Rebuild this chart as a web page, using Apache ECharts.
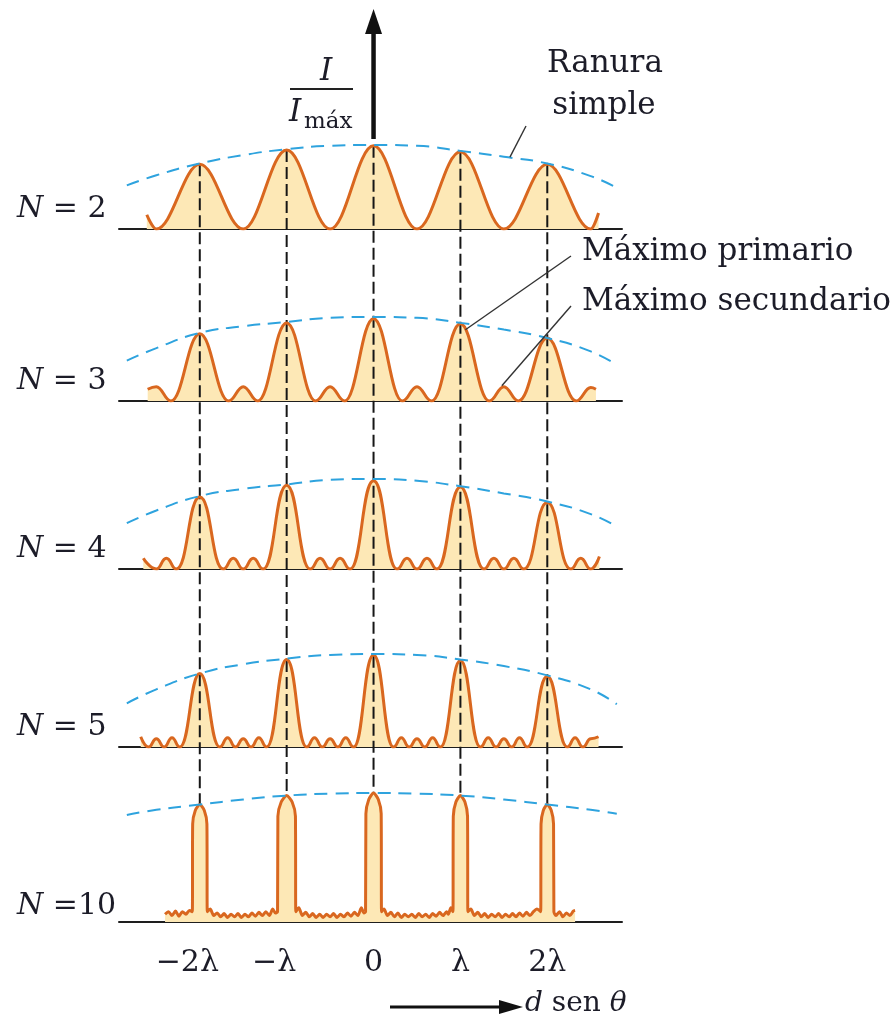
<!DOCTYPE html>
<html>
<head>
<meta charset="utf-8">
<script src="https://cdn.jsdelivr.net/npm/echarts@6/dist/echarts.min.js"></script>
<style>
html, body { margin: 0; padding: 0; background: #ffffff; }
#chart { width: 893px; height: 1017px; }
</style>
</head>
<body>
<div id="chart"></div>
<script>
// Principal-maximum positions (in units of λ on the d sen θ axis) and their labels
const positions = [-2, -1, 0, 1, 2];
const tickLabels = ['−2λ', '−λ', '0', 'λ', '2λ'];
const panelLabels = ['N = 2', 'N = 3', 'N = 4', 'N = 5', 'N =10'];

// Single-slit envelope (I / I_máx), sampled along d sen θ
const envelopeX   = [-2.84, -2.5, -2, -1.5, -1, -0.5, 0, 0.5, 1, 1.5, 2, 2.5, 2.8];
const envelopeN2  = [0.52, 0.64, 0.78, 0.88, 0.95, 0.99, 1.0, 0.99, 0.93, 0.86, 0.78, 0.63, 0.49];
const envelopeN3  = [0.48, 0.63, 0.81, 0.89, 0.94, 0.99, 1.0, 0.99, 0.93, 0.85, 0.75, 0.59, 0.43];
const envelopeN4  = [0.51, 0.65, 0.81, 0.89, 0.94, 0.99, 1.0, 0.98, 0.92, 0.84, 0.75, 0.61, 0.47];
const envelopeN5  = [0.47, 0.62, 0.79, 0.89, 0.95, 0.99, 1.0, 0.99, 0.94, 0.87, 0.77, 0.62, 0.46];
const envelopeN10 = [0.83, 0.87, 0.91, 0.95, 0.98, 0.995, 1.0, 0.995, 0.98, 0.95, 0.91, 0.87, 0.84];

// Interference patterns: [d sen θ (λ), I / I_máx] at maxima and minima
const curveN2 = [[-2.61, 0.17], [-2.5, 0], [-2, 0.77], [-1.5, 0], [-1, 0.94], [-0.5, 0], [0, 0.99],
  [0.5, 0], [1, 0.92], [1.5, 0], [2, 0.77], [2.5, 0], [2.59, 0.19]];

const curveN3 = [[-2.6, 0.14], [-2.5, 0.17], [-2.333, 0], [-2, 0.8], [-1.667, 0], [-1.5, 0.17], [-1.333, 0],
  [-1, 0.93], [-0.667, 0], [-0.5, 0.17], [-0.333, 0], [0, 0.98], [0.333, 0], [0.5, 0.17], [0.667, 0],
  [1, 0.92], [1.333, 0], [1.5, 0.17], [1.667, 0], [2, 0.75], [2.333, 0], [2.5, 0.16], [2.56, 0.14]];

const curveN4 = [[-2.65, 0.12], [-2.5, 0], [-2.385, 0.12], [-2.27, 0], [-2, 0.8], [-1.73, 0], [-1.615, 0.12],
  [-1.5, 0], [-1.385, 0.12], [-1.27, 0], [-1, 0.93], [-0.73, 0], [-0.615, 0.12], [-0.5, 0], [-0.385, 0.12],
  [-0.27, 0], [0, 0.98], [0.27, 0], [0.385, 0.12], [0.5, 0], [0.615, 0.12], [0.73, 0], [1, 0.91],
  [1.27, 0], [1.385, 0.12], [1.5, 0], [1.615, 0.12], [1.73, 0], [2, 0.74], [2.27, 0], [2.385, 0.12],
  [2.5, 0], [2.6, 0.14]];

const curveN5 = [[-2.68, 0.11], [-2.59, 0], [-2.5, 0.09], [-2.41, 0], [-2.32, 0.1], [-2.23, 0], [-2, 0.79],
  [-1.77, 0], [-1.68, 0.1], [-1.59, 0], [-1.5, 0.09], [-1.41, 0], [-1.32, 0.1], [-1.23, 0], [-1, 0.94],
  [-0.77, 0], [-0.68, 0.1], [-0.59, 0], [-0.5, 0.09], [-0.41, 0], [-0.32, 0.1], [-0.23, 0], [0, 0.99],
  [0.23, 0], [0.32, 0.1], [0.41, 0], [0.5, 0.09], [0.59, 0], [0.68, 0.1], [0.77, 0], [1, 0.93],
  [1.23, 0], [1.32, 0.1], [1.41, 0], [1.5, 0.09], [1.59, 0], [1.68, 0.1], [1.77, 0], [2, 0.76],
  [2.23, 0], [2.32, 0.1], [2.41, 0], [2.5, 0.09], [2.59, 0.11]];

const curveN10 = [
  [-2.40, 0.06], [-2.36, 0.08], [-2.32, 0.05], [-2.28, 0.085], [-2.24, 0.045], [-2.20, 0.08],
  [-2.16, 0.06], [-2.12, 0.09],
  [-2.086, 0.08], [-2.082, 0.76], [-2.052, 0.865], [-2, 0.91], [-1.948, 0.865], [-1.918, 0.76], [-1.914, 0.08],
  [-1.88, 0.10], [-1.84, 0.05], [-1.80, 0.07], [-1.76, 0.04], [-1.72, 0.065], [-1.68, 0.035], [-1.64, 0.06],
  [-1.60, 0.04], [-1.56, 0.065], [-1.52, 0.035], [-1.48, 0.06], [-1.44, 0.04], [-1.40, 0.07], [-1.36, 0.045],
  [-1.32, 0.075], [-1.28, 0.05], [-1.24, 0.08], [-1.20, 0.05], [-1.16, 0.10], [-1.13, 0.07],
  [-1.105, 0.08], [-1.101, 0.82], [-1.063, 0.93], [-1, 0.98], [-0.937, 0.93], [-0.899, 0.82], [-0.895, 0.08],
  [-0.86, 0.11], [-0.82, 0.05], [-0.78, 0.075], [-0.74, 0.04], [-0.70, 0.065], [-0.66, 0.035], [-0.62, 0.06],
  [-0.58, 0.035], [-0.54, 0.06], [-0.50, 0.04], [-0.46, 0.065], [-0.42, 0.035], [-0.38, 0.06], [-0.34, 0.04],
  [-0.30, 0.07], [-0.26, 0.045], [-0.22, 0.075], [-0.18, 0.05], [-0.14, 0.11], [-0.11, 0.07],
  [-0.092, 0.08], [-0.088, 0.84], [-0.055, 0.95], [0, 1.0], [0.055, 0.95], [0.088, 0.84], [0.092, 0.08],
  [0.12, 0.10], [0.16, 0.05], [0.20, 0.075], [0.24, 0.04], [0.28, 0.07], [0.32, 0.035], [0.36, 0.06],
  [0.40, 0.04], [0.44, 0.06], [0.48, 0.035], [0.52, 0.065], [0.56, 0.04], [0.60, 0.06], [0.64, 0.035],
  [0.68, 0.065], [0.72, 0.045], [0.76, 0.075], [0.80, 0.05], [0.84, 0.08], [0.86, 0.06], [0.89, 0.11],
  [0.914, 0.08], [0.918, 0.82], [0.948, 0.93], [1, 0.98], [1.052, 0.93], [1.082, 0.82], [1.086, 0.08],
  [1.12, 0.10], [1.16, 0.05], [1.20, 0.075], [1.24, 0.04], [1.28, 0.065], [1.32, 0.035], [1.36, 0.06],
  [1.40, 0.04], [1.44, 0.065], [1.48, 0.035], [1.52, 0.06], [1.56, 0.04], [1.60, 0.065], [1.64, 0.04],
  [1.68, 0.07], [1.72, 0.045], [1.76, 0.075], [1.80, 0.05], [1.84, 0.08], [1.88, 0.10], [1.91, 0.09],
  [1.924, 0.08], [1.928, 0.76], [1.954, 0.865], [2, 0.91], [2.046, 0.865], [2.072, 0.76], [2.076, 0.08],
  [2.10, 0.05], [2.14, 0.08], [2.18, 0.04], [2.22, 0.07], [2.26, 0.05], [2.30, 0.085], [2.32, 0.09]
];

const curves = [curveN2, curveN3, curveN4, curveN5, curveN10];
const envelopes = [envelopeN2, envelopeN3, envelopeN4, envelopeN5, envelopeN10];

// Panel layout: baseline pixel row, pixels per unit of I / I_máx, curve smoothing
const baselines = [229, 401, 569, 747, 922];
const unitPx = [84, 84, 90, 93, 129];
const smoothing = [0.37, 0.42, 0.5, 0.5, 0.25];
const yMax = 1.1;
const X_MIN = -2.93, X_MAX = 2.86;

const SERIF = 'DejaVu Serif';
const INK = '#1c1c28';
const ORANGE = '#d9671f';
const FILL = '#fde8b6';
const BLUE = '#2ea3de';

const grids = [], xAxes = [], yAxes = [], series = [];
curves.forEach((curve, i) => {
  const h = unitPx[i] * yMax;
  const isLast = i === curves.length - 1;
  grids.push({ left: 119, width: 503, top: baselines[i] - h, height: h });
  xAxes.push({
    type: 'value', gridIndex: i, min: X_MIN, max: X_MAX,
    axisLine: { show: true, onZero: false, lineStyle: { color: '#1e1e1e', width: 2 } },
    axisTick: { show: false },
    splitLine: { show: false },
    axisLabel: isLast ? {
      show: true,
      customValues: positions,
      margin: 26,
      fontFamily: SERIF, fontSize: 30, color: INK,
      formatter: v => {
        const t = tickLabels[positions.indexOf(v)];
        return t.startsWith('−') ? '{n|' + t + '}' : t;
      },
      rich: { n: { fontFamily: SERIF, fontSize: 30, color: INK, padding: [0, 25, 0, 0] } }
    } : { show: false }
  });
  yAxes.push({ type: 'value', gridIndex: i, min: 0, max: yMax, show: false });

  const smoothOpts = isLast ? { smooth: smoothing[i] } : { smooth: smoothing[i], smoothMonotone: 'x' };
  series.push(Object.assign({
    type: 'line', xAxisIndex: i, yAxisIndex: i, data: curve, showSymbol: false, silent: true,
    lineStyle: { width: 0 }, areaStyle: { color: FILL, opacity: 1 }, z: 1, clip: true
  }, smoothOpts));
  series.push(Object.assign({
    type: 'line', xAxisIndex: i, yAxisIndex: i, data: curve, showSymbol: false, silent: true,
    lineStyle: { color: ORANGE, width: 3, join: 'round' }, z: 4, clip: true
  }, smoothOpts));
  series.push({
    type: 'line', xAxisIndex: i, yAxisIndex: i,
    data: envelopeX.map((x, j) => [x, envelopes[i][j]]),
    showSymbol: false, silent: true, smooth: 0.5,
    lineStyle: { color: BLUE, width: 2, type: [13, 8] }, z: 5
  });
});

const chart = echarts.init(document.getElementById('chart'), null, { renderer: 'canvas' });
chart.setOption({
  animation: false,
  backgroundColor: '#ffffff',
  grid: grids, xAxis: xAxes, yAxis: yAxes, series: series
});

// Overlay: guide lines, axis arrows and annotations placed through the axes' scales
const peakOf = (curve, k) => curve.find(p => p[0] === k)[1];
const px = (g, pt) => chart.convertToPixel({ gridIndex: g }, pt);
const textStyle = (extra) => Object.assign({
  fontFamily: SERIF, fill: INK, align: 'left', verticalAlign: 'middle',
  textAlign: 'left', textVerticalAlign: 'middle'
}, extra);

const graphics = [];
positions.forEach(k => {
  const top = px(0, [k, peakOf(curveN2, k)]);
  const bot = px(4, [k, peakOf(curveN10, k)]);
  graphics.push({
    type: 'line', z: 3, silent: true,
    shape: { x1: top[0], y1: top[1], x2: bot[0], y2: bot[1] },
    style: { stroke: '#161616', lineWidth: 2, lineDash: [12, 5] }
  });
});

// Vertical I / I_máx arrow above the central maximum
const axisTop = px(0, [0, envelopeN2[envelopeX.indexOf(0)]]);
const ax = axisTop[0];
graphics.push({ type: 'line', z: 6, shape: { x1: ax, y1: axisTop[1] - 6, x2: ax, y2: 28 },
  style: { stroke: '#111', lineWidth: 4.5 } });
graphics.push({ type: 'polygon', z: 6, shape: { points: [[ax - 8.5, 34], [ax, 9], [ax + 8.5, 34]] },
  style: { fill: '#111' } });

// I / I_máx label
graphics.push({ type: 'text', z: 6, x: 326, y: 72, style: textStyle({ text: 'I', fontSize: 31, fontStyle: 'italic', align: 'center', textAlign: 'center' }) });
graphics.push({ type: 'line', z: 6, shape: { x1: 290, y1: 89, x2: 353, y2: 89 }, style: { stroke: '#222', lineWidth: 2 } });
graphics.push({ type: 'text', z: 6, x: 289, y: 113, style: textStyle({ text: 'I', fontSize: 31, fontStyle: 'italic' }) });
graphics.push({ type: 'text', z: 6, x: 304, y: 122, style: textStyle({ text: 'máx', fontSize: 23 }) });

// Panel labels
panelLabels.forEach((lab, i) => {
  const parts = lab.split('N');
  const lift = i === panelLabels.length - 1 ? 7 : 11;
  graphics.push({
    type: 'text', z: 6, x: 17, y: baselines[i] - lift - 9,
    style: textStyle({
      text: '{i|N}{r|' + parts[1] + '}', fontSize: 30,
      rich: { i: { fontFamily: SERIF, fontSize: 30, fontStyle: 'italic', fill: INK },
              r: { fontFamily: SERIF, fontSize: 30, fill: INK } }
    })
  });
});

// Annotations
graphics.push({ type: 'text', z: 6, x: 605, y: 64, style: textStyle({ text: 'Ranura', fontSize: 31, align: 'center', textAlign: 'center' }) });
graphics.push({ type: 'text', z: 6, x: 604, y: 106, style: textStyle({ text: 'simple', fontSize: 31, align: 'center', textAlign: 'center' }) });
const slitAnchor = px(0, [1.57, 0.855]);
graphics.push({ type: 'line', z: 6, shape: { x1: slitAnchor[0], y1: slitAnchor[1], x2: 526, y2: 126 },
  style: { stroke: '#333', lineWidth: 1.4 } });

graphics.push({ type: 'text', z: 6, x: 582, y: 252, style: textStyle({ text: 'Máximo primario', fontSize: 31 }) });
graphics.push({ type: 'text', z: 6, x: 582, y: 302, style: textStyle({ text: 'Máximo secundario', fontSize: 31 }) });
const primary = px(1, [1, peakOf(curveN3, 1)]);
graphics.push({ type: 'line', z: 6, shape: { x1: primary[0] + 5, y1: primary[1] + 6, x2: 571, y2: 256 },
  style: { stroke: '#333', lineWidth: 1.4 } });
const secondary = px(1, [1.5, peakOf(curveN3, 1.5)]);
graphics.push({ type: 'line', z: 6, shape: { x1: secondary[0] - 2, y1: secondary[1] - 1, x2: 571, y2: 306 },
  style: { stroke: '#333', lineWidth: 1.4 } });

// d sen θ direction arrow
graphics.push({ type: 'line', z: 6, shape: { x1: 390, y1: 1007, x2: 503, y2: 1007 }, style: { stroke: '#111', lineWidth: 3 } });
graphics.push({ type: 'polygon', z: 6, shape: { points: [[499, 1000], [523, 1007], [499, 1014]] }, style: { fill: '#111' } });
graphics.push({
  type: 'text', z: 6, x: 525, y: 1004,
  style: textStyle({
    text: '{i|d}{r| sen }{i|θ}', fontSize: 28,
    rich: { i: { fontFamily: SERIF, fontSize: 28, fontStyle: 'italic', fill: INK },
            r: { fontFamily: SERIF, fontSize: 28, fill: INK } }
  })
});

chart.setOption({ graphic: { elements: graphics } });
</script>
</body>
</html>
